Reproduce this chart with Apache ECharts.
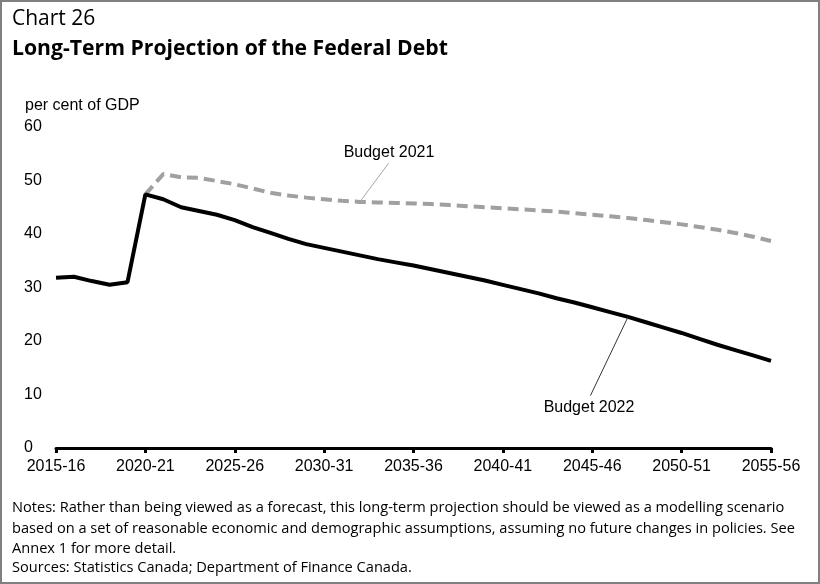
<!DOCTYPE html>
<html>
<head>
<meta charset="utf-8">
<script src="https://cdn.jsdelivr.net/npm/echarts@6/dist/echarts.min.js"></script>
<style>
html,body{margin:0;padding:0;background:#fff;}
#c{width:820px;height:584px;}
</style>
</head>
<body>
<div id="c"></div>
<script>
// Fiscal years (category labels)
const years = ["2015-16","2016-17","2017-18","2018-19","2019-20","2020-21","2021-22","2022-23","2023-24","2024-25",
  "2025-26","2026-27","2027-28","2028-29","2029-30","2030-31","2031-32","2032-33","2033-34","2034-35",
  "2035-36","2036-37","2037-38","2038-39","2039-40","2040-41","2041-42","2042-43","2043-44","2044-45",
  "2045-46","2046-47","2047-48","2048-49","2049-50","2050-51","2051-52","2052-53","2053-54","2054-55","2055-56"];
// Budget 2022 (per cent of GDP)
const budget2022 = [31.8,32.0,31.2,30.5,31.0,47.4,46.5,45.0,44.3,43.6,
  42.6,41.3,40.2,39.1,38.1,37.4,36.7,36.0,35.3,34.7,
  34.1,33.4,32.7,32.0,31.3,30.5,29.7,28.9,28.0,27.2,
  26.3,25.4,24.5,23.5,22.5,21.5,20.4,19.3,18.3,17.3,16.3];
// Budget 2021 (per cent of GDP)
const budget2021 = [null,null,null,null,null,47.4,51.2,50.6,50.5,49.9,
  49.3,48.5,47.7,47.2,46.8,46.5,46.2,46.0,45.9,45.8,
  45.7,45.6,45.4,45.2,45.0,44.8,44.6,44.4,44.2,43.9,
  43.6,43.3,43.0,42.6,42.2,41.8,41.3,40.8,40.2,39.5,38.7];
const yTicks = [0,10,20,30,40,50,60];
const titleTop = "Chart 26";
const titleMain = "Long-Term Projection of the Federal Debt";
const yUnit = "per cent of GDP";
const notes = [
  "Notes: Rather than being viewed as a forecast, this long-term projection should be viewed as a modelling scenario",
  "based on a set of reasonable economic and demographic assumptions, assuming no future changes in policies. See",
  "Annex 1 for more detail.",
  "Sources: Statistics Canada; Department of Finance Canada."
];
// leader line anchors [index, value]
const lead2021 = [[17, 46.0],[18.6, 53.2]];
const lead2022 = [[32, 24.5],[29.9, 9.8]];

const pairs = arr => arr.map((v,i)=> v==null ? [i,null] : [i,v]);
const chart = echarts.init(document.getElementById('c'), null, {renderer:'canvas'});
const axisFont = '"Liberation Sans", Arial, sans-serif';
const segFont = '"Open Sans", "Noto Sans", sans-serif';

const graphics = [
  {type:'rect', shape:{x:1,y:1,width:818,height:582}, style:{fill:null, stroke:'#808080', lineWidth:2}, silent:true},
  {type:'text', x:12, y:19, style:{text:titleTop, font:'21px '+segFont, fill:'#000', textVerticalAlign:'middle'}},
  {type:'text', x:12, y:49, style:{text:titleMain, font:'bold 21.2px '+segFont, fill:'#000', textVerticalAlign:'middle'}},
  {type:'text', x:25, y:106, style:{text:yUnit, font:'16px '+axisFont, fill:'#000', textVerticalAlign:'middle'}},
  {type:'text', x:389, y:153, style:{text:'Budget 2021', font:'16px '+axisFont, fill:'#000', textAlign:'center', textVerticalAlign:'middle'}},
  {type:'text', x:589, y:408, style:{text:'Budget 2022', font:'16px '+axisFont, fill:'#000', textAlign:'center', textVerticalAlign:'middle'}}
];
const noteY = [508, 529, 549, 568];
notes.forEach((t,i)=>graphics.push({type:'text', x:12, y:noteY[i], style:{text:t, font:'14.6px '+segFont, fill:'#000', textVerticalAlign:'middle'}}));

chart.setOption({
  animation:false,
  backgroundColor:'#fff',
  grid:{left:56, right:49, top:127, bottom:136},
  xAxis:{
    type:'value', min:0, max:years.length-1, interval:5,
    axisLine:{show:true, lineStyle:{color:'#000', width:3}},
    axisTick:{show:true, length:5, lineStyle:{color:'#000', width:3}},
    splitLine:{show:false},
    axisLabel:{formatter:v=>years[v]||'', color:'#000', fontSize:16, fontFamily:axisFont, margin:11, showMinLabel:true, showMaxLabel:true}
  },
  yAxis:{
    type:'value', min:yTicks[0], max:yTicks[yTicks.length-1], interval:10,
    axisLine:{show:false}, axisTick:{show:false}, splitLine:{show:false},
    axisLabel:{color:'#000', fontSize:16, fontFamily:axisFont, align:'left', margin:32}
  },
  series:[
    {name:'Budget 2021', type:'line', data:pairs(budget2021), symbol:'none', connectNulls:false,
     lineStyle:{color:'#A0A0A0', width:4, type:[11,6]}, z:2,
     markLine:{silent:true, symbol:'none', label:{show:false}, lineStyle:{color:'#A6A6A6', width:1, type:'solid'},
       data:[[{coord:lead2021[0]},{coord:lead2021[1]}]]}},
    {name:'Budget 2022', type:'line', data:pairs(budget2022), symbol:'none',
     lineStyle:{color:'#000', width:4}, z:3,
     markLine:{silent:true, symbol:'none', label:{show:false}, lineStyle:{color:'#333', width:1, type:'solid'},
       data:[[{coord:lead2022[0]},{coord:lead2022[1]}]]}}
  ],
  graphic:graphics
});
</script>
</body>
</html>
